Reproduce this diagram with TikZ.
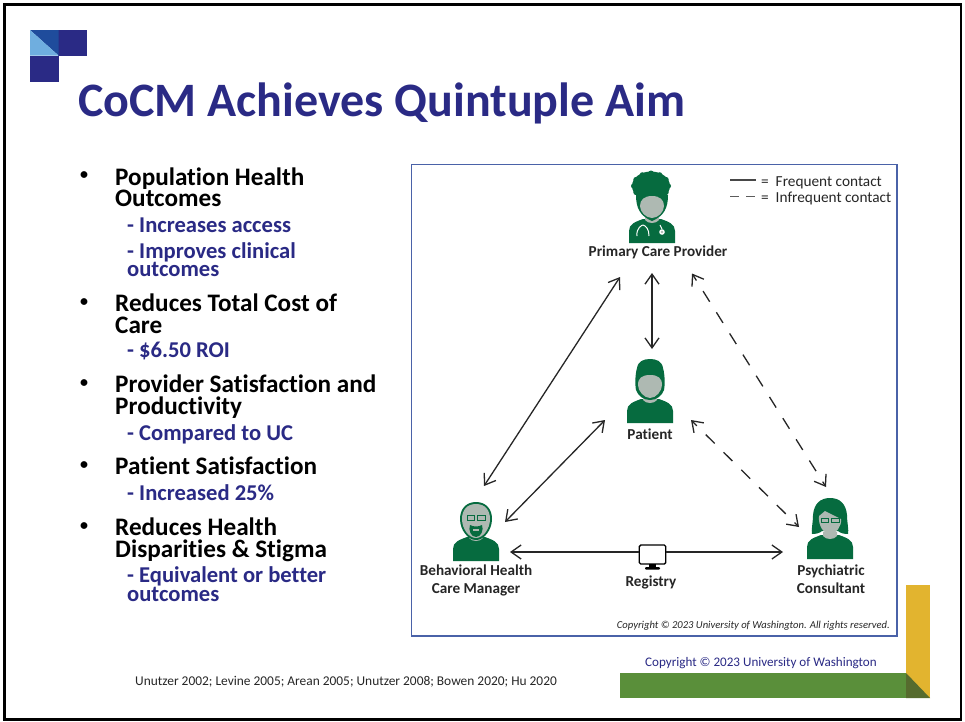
\documentclass[tikz,border=0pt]{standalone}
\usepackage{fontspec}
\setmainfont{Carlito}[Ligatures=NoCommon]
\usetikzlibrary{arrows.meta}
\definecolor{navy}{HTML}{2A2A85}
\definecolor{midblue}{HTML}{1F4C9C}
\definecolor{lightblue}{HTML}{6FAEDF}
\definecolor{boxblue}{HTML}{4A62A8}
\definecolor{pgreen}{HTML}{066B3F}
\definecolor{pface}{HTML}{AEB9B2}
\definecolor{barg}{HTML}{5A8F3A}
\definecolor{bary}{HTML}{E2B42F}
\definecolor{bard}{HTML}{566B2E}
\definecolor{tgray}{HTML}{262626}
\tikzset{
  x=1pt,y=-1pt,
  head/.style={font=\fontsize{25.2}{21.5}\selectfont\bfseries,anchor=north west,align=left,inner sep=0pt,text=black},
  subh/.style={font=\fontsize{22.6}{18.5}\selectfont\bfseries,anchor=north west,align=left,inner sep=0pt,text=navy},
  dot/.style={font=\fontsize{16}{16}\selectfont\bfseries,anchor=center,inner sep=0pt,text=black},
  role/.style={font=\fontsize{15.2}{18}\selectfont\bfseries,align=center,inner sep=0pt,text=tgray},
  legend/.style={font=\fontsize{15.3}{16}\selectfont,anchor=west,inner sep=0pt,text=tgray},
  link/.style={draw=tgray,line width=1.3pt,{Straight Barb[length=10pt,width=14pt]}-{Straight Barb[length=10pt,width=14pt]}},
  linkto/.style={draw=tgray,line width=1.3pt,-{Straight Barb[length=10pt,width=14pt]}},
  rare/.style={link,dash pattern=on 12.5pt off 12.5pt,dash phase=6pt},
  figbox/.style={inner sep=0pt,minimum width=46pt,minimum height=46pt},
}
\newcommand{\bodyshape}[2]{
  \fill[pgreen] (#1-23,#2) -- (#1-23,#2-12) .. controls (#1-23,#2-19) and (#1-17,#2-21) .. (#1-9,#2-24)
   -- (#1+9,#2-24) .. controls (#1+17,#2-21) and (#1+23,#2-19) .. (#1+23,#2-12) -- (#1+23,#2) -- cycle;
  \fill[pface] (#1-7,#2-27) -- (#1+7,#2-27) -- (#1+7,#2-23) .. controls (#1+4,#2-19) and (#1-4,#2-19) .. (#1-7,#2-23) -- cycle;
}
\begin{document}
\begin{tikzpicture}
\useasboundingbox (0,0) rectangle (965,721);
\fill[white] (0,0) rectangle (965,721);
\draw[black,line width=2.2pt] (4.5,4.5) rectangle (961,719.5);
% logo
\fill[navy] (58,30) rectangle (87,55.5);
\fill[navy] (30,55.5) rectangle (58.5,82);
\fill[midblue] (30,30) -- (58.5,30) -- (58.5,55.5) -- cycle;
\fill[lightblue] (30,30) -- (58.5,55.5) -- (30,55.5) -- cycle;
% title
\node[font=\fontsize{48}{48}\selectfont\bfseries,text=navy,anchor=base west,inner sep=0pt] (title) at (78,116) {CoCM Achieves Quintuple Aim};
% left list
\node[dot] (b1) at (84,176) {•};
\node[head] (h1) at (115,167.5) {Population Health\\Outcomes};
\node[subh] (s1) at (127,218) {- Increases access};
\node[subh] (s2) at (127,242) {- Improves clinical\\outcomes};
\node[dot] (b2) at (84,303) {•};
\node[head] (h2) at (115,294) {Reduces Total Cost of\\Care};
\node[subh] (s3) at (127,342) {- \$6.50 ROI};
\node[dot] (b3) at (84,384) {•};
\node[head] (h3) at (115,375) {Provider Satisfaction and\\Productivity};
\node[subh] (s4) at (127,424) {- Compared to UC};
\node[dot] (b4) at (84,466) {•};
\node[head] (h4) at (115,457) {Patient Satisfaction};
\node[subh] (s5) at (127,484) {- Increased 25\%};
\node[dot] (b5) at (84,527) {•};
\node[head] (h5) at (115,518) {Reduces Health\\Disparities \& Stigma};
\node[subh] (s6) at (127,566.5) {- Equivalent or better\\outcomes};
\node[font=\fontsize{13.4}{15}\selectfont,anchor=base west,inner sep=0pt,text=tgray] (cite) at (135,685) {Unutzer 2002; Levine 2005; Arean 2005; Unutzer 2008; Bowen 2020; Hu 2020};
% diagram box
\draw[boxblue,line width=1.5pt] (411.5,164.5) rectangle (897,636);
% legend
\coordinate (l1a) at (730,180); \coordinate (l1b) at (756,180);
\coordinate (l2a) at (730,196); \coordinate (l2b) at (756,196);
\draw[tgray!85,line width=1.1pt] (l1a) -- (l1b);
\draw[tgray!75,line width=1pt,dash pattern=on 9pt off 7pt] (l2a) -- (l2b);
\node[legend] (lg1) at (761,183) {=\ \ Frequent contact};
\node[legend] (lg2) at (761,198.5) {=\ \ Infrequent contact};
% anchors of the four figures
\node[figbox] (pcpf) at (652,207) {};
\node[figbox] (patf) at (650,391) {};
\node[figbox] (bhf) at (476,531) {};
\node[figbox] (psyf) at (830,528) {};
% Primary care provider
\bodyshape{652}{243}
\fill[pgreen] (636,195) -- (668,195) .. controls (668,208) and (664,216) .. (652,221) .. controls (640,216) and (636,208) .. (636,195) -- cycle;
\fill[pgreen] (651,186) ellipse [x radius=19,y radius=14.5];
\foreach \a in {0,30,...,330}{\fill[pgreen] (651,186) ++(\a:17.5 and 13) circle (2.5);}
\fill[pface] (652,196) .. controls (644,196) and (640,200) .. (640,206) .. controls (640,212) and (646,218) .. (652,218)
  .. controls (658,218) and (664,212) .. (664,206) .. controls (664,200) and (660,196) .. cycle;
\draw[white,line width=1pt] (637,236) .. controls (636,228) and (642,225) .. (643,225);
\draw[white,line width=1pt] (649,236) .. controls (649,229) and (646,226) .. (643,225);
\draw[white,line width=1pt] (660,225) -- (662,229);
\fill[white] (662,232) circle (2.8);
\fill[pface] (662,232) circle (1.4);
\node[role] (pcp) at (658,252) {Primary Care Provider};
% Patient
\bodyshape{650}{423}
\fill[pgreen] (650,359) .. controls (644,359) and (638,361) .. (637,368) .. controls (635,375) and (635,385) .. (636,390)
  .. controls (638,396) and (644,400) .. (650,400) .. controls (656,400) and (662,396) .. (664,390)
  .. controls (665,385) and (665,375) .. (663,368) .. controls (662,361) and (656,359) .. cycle;
\fill[pface] (650,375) .. controls (642,375) and (638,378) .. (638,385) .. controls (638,391) and (644,398) .. (650,398)
  .. controls (656,398) and (662,391) .. (662,385) .. controls (662,378) and (658,375) .. cycle;
\node[role] (pat) at (650,434) {Patient};
% Behavioral health care manager
\bodyshape{476}{561}
\fill[pgreen] (476,502) .. controls (466,502) and (460,509) .. (460,519) .. controls (460,530) and (468,540) .. (476,540)
  .. controls (484,540) and (492,530) .. (492,519) .. controls (492,509) and (486,502) .. cycle;
\fill[pface] (476,504) .. controls (467,504) and (462,510) .. (462,519) .. controls (462,529) and (469,538) .. (476,538)
  .. controls (483,538) and (490,529) .. (490,519) .. controls (490,510) and (485,504) .. cycle;
\fill[pgreen] (470,525) .. controls (474,527) and (478,527) .. (482,525) .. controls (484,530) and (481,537) .. (476,537)
  .. controls (471,537) and (468,530) .. (470,525) -- cycle;
\fill[pface] (473,529) rectangle (479,531);
\draw[pgreen,line width=.9pt,fill=pface] (467,515.5) rectangle (474.5,520);
\draw[pgreen,line width=.9pt,fill=pface] (477.5,515.5) rectangle (485,520);
\node[role] (bh) at (476,580) {Behavioral Health\\Care Manager};
% Psychiatric consultant
\bodyshape{830}{559}
\fill[pgreen] (830,498) .. controls (820,498) and (814,504) .. (813,515) .. controls (813,523) and (811,530) .. (812,534)
  .. controls (816,534) and (820,533) .. (822,531) -- (838,531) .. controls (840,533) and (844,534) .. (848,534)
  .. controls (849,530) and (847,523) .. (847,515) .. controls (846,504) and (840,498) .. cycle;
\fill[pface] (819,516) -- (825,511) -- (841,519) .. controls (842,526) and (836,534) .. (830,534) .. controls (824,534) and (818,526) .. (819,516) -- cycle;
\draw[pgreen,line width=.9pt,fill=pface] (821,518) rectangle (828.5,522);
\draw[pgreen,line width=.9pt,fill=pface] (831.5,518) rectangle (839,522);
\node[role] (psy) at (831,579.5) {Psychiatric\\Consultant};
% registry monitor
\node[draw=black,line width=1.4pt,rounded corners=1.5pt,minimum width=26.5pt,minimum height=19pt,inner sep=0pt,fill=white] (mon) at (652.5,554.5) {};
\fill[black] (649,564) rectangle (656,567);
\fill[black,rounded corners=1pt] (645,567) rectangle (660,569.5);
\node[role] (reg) at (651,582) {Registry};
% connectors
\draw[link] ([shift={(-32,70)}]pcpf.center) -- ([shift={(8,-45)}]bhf.center);
\draw[link] ([shift={(0,66)}]pcpf.center) -- ([shift={(2,-42)}]patf.center);
\draw[rare] ([shift={(40,66.5)}]pcpf.center) -- ([shift={(-4,-41)}]psyf.center);
\draw[link] ([shift={(-45,29)}]patf.center) -- ([shift={(29,-9)}]bhf.center);
\draw[rare] ([shift={(41,29)}]patf.center) -- ([shift={(-31,-1)}]psyf.center);
\draw[linkto] ([shift={(0,-2.5)}]mon.west) -- ([shift={(34,21)}]bhf.center);
\draw[linkto] ([shift={(0,-2.5)}]mon.east) -- ([shift={(-47,24)}]psyf.center);
% footer and copyrights
\node[font=\fontsize{10.6}{12}\selectfont\itshape,anchor=base east,inner sep=0pt,text=tgray] (cr1) at (890,628) {Copyright © 2023 University of Washington. All rights reserved.};
\fill[bary] (906,585) rectangle (930,698);
\fill[barg] (620,673) rectangle (906,698);
\fill[bard] (906,673) -- (930,698) -- (906,698) -- cycle;
\node[font=\fontsize{13.1}{15}\selectfont,anchor=base west,inner sep=0pt,text=navy] (cr2) at (645,666) {Copyright © 2023 University of Washington};
\end{tikzpicture}
\end{document}
